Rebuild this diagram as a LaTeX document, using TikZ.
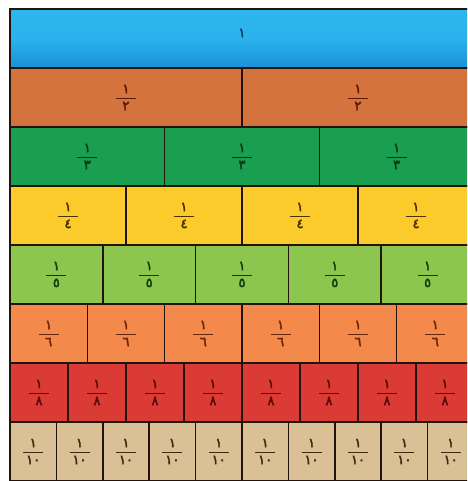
\documentclass[tikz,border=0pt]{standalone}
\usepackage{amsmath}
\usepackage{fontspec}
\newfontfamily\arabicfont[Script=Arabic,FakeBold=3]{DejaVu Sans}
\definecolor{wallline}{HTML}{22140C}
\definecolor{blueA}{HTML}{2CB6EE}
\definecolor{blueB}{HTML}{1B90D8}
\definecolor{bluet}{HTML}{123A6A}
\definecolor{halfc}{HTML}{D4733E}
\definecolor{halft}{HTML}{5A1A08}
\definecolor{thirdc}{HTML}{1A9E50}
\definecolor{thirdt}{HTML}{0C3818}
\definecolor{quartc}{HTML}{FBCB2B}
\definecolor{quartt}{HTML}{4A3000}
\definecolor{fifthc}{HTML}{8DC64F}
\definecolor{fiftht}{HTML}{163C0C}
\definecolor{sixthc}{HTML}{F38A4B}
\definecolor{sixtht}{HTML}{6A2408}
\definecolor{eighthc}{HTML}{DA3B34}
\definecolor{eightht}{HTML}{5A0808}
\definecolor{tenthc}{HTML}{D9C195}
\definecolor{tentht}{HTML}{3A2810}
\newcommand{\fr}[1]{\ensuremath{\displaystyle\genfrac{}{}{1pt}{0}{\makebox[20pt]{\arabicfont ١}}{\makebox[20pt]{\arabicfont #1}}}}
\begin{document}
\begin{tikzpicture}[x=1pt,y=-1pt,
  cell/.style={draw=wallline, line width=1.5pt, inner sep=0pt, outer sep=0pt,
    minimum height=59pt, anchor=center, font=\fontsize{13}{15}\selectfont}]
\useasboundingbox (0,0) rectangle (467,481);
\fill[white] (0,0) rectangle (467,481);
\clip (0,0) rectangle (467,481);
\node[cell, minimum width=464pt, top color=blueA, bottom color=blueB, middle color=blueA!90!blueB] (whole) at (242,38.5) {};
\node[text=bluet, font=\fontsize{13}{15}\selectfont\arabicfont] (wholelabel) at (242,33) {١};
\foreach \r/\n/\d/\fc/\tc in {1/2/٢/halfc/halft, 2/3/٣/thirdc/thirdt, 3/4/٤/quartc/quartt, 4/5/٥/fifthc/fiftht, 5/6/٦/sixthc/sixtht, 6/8/٨/eighthc/eightht, 7/10/١٠/tenthc/tentht}{
  \foreach \i in {1,...,\n}{
    \node[cell, fill=\fc, text=\tc, minimum width={464pt/\n}] (c\r-\i) at ({10+(\i-0.5)*464/\n}, {9+(\r+0.5)*59}) {\fr{\d}};
  }
}
\end{tikzpicture}
\end{document}
